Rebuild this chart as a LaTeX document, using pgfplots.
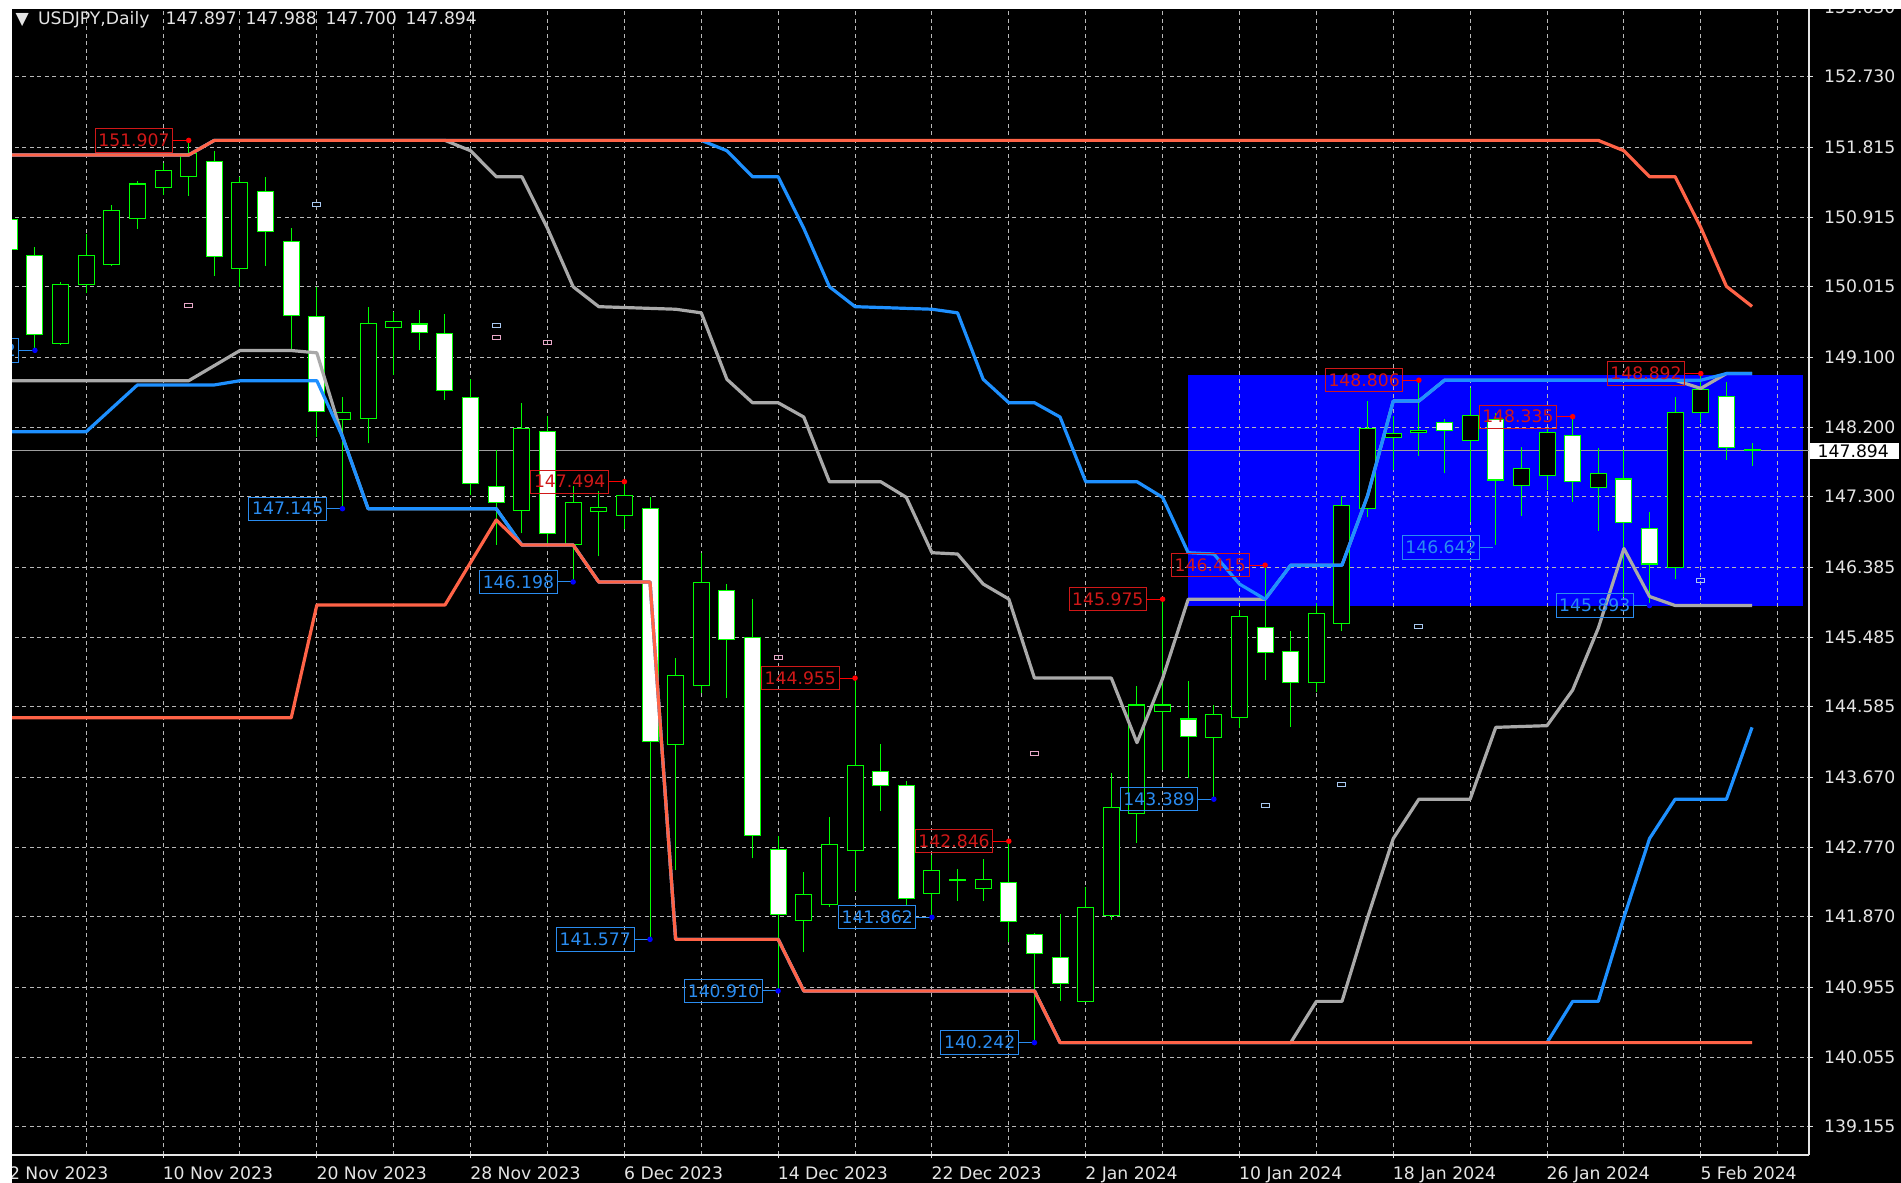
\documentclass[border=0pt]{standalone}
\usepackage{pgfplots}
\pgfplotsset{compat=1.18}
\usepackage{pgfplotstable}
\usepackage{fontspec}
\setmainfont{DejaVu Sans}

\definecolor{mtgreen}{HTML}{00FF00}
\definecolor{mtred}{HTML}{FF6347}
\definecolor{mtgray}{HTML}{A9A9A9}
\definecolor{mtblue}{HTML}{1E90FF}
\definecolor{rectblue}{HTML}{0000FF}
\definecolor{lblred}{HTML}{D01818}
\definecolor{lblblue}{HTML}{2A8CF0}
\definecolor{gridc}{HTML}{B8B8B8}
\definecolor{txt}{HTML}{E4E4E4}
\definecolor{mkpink}{HTML}{E8A8C8}
\definecolor{mkblue}{HTML}{A8C8F0}
\newcommand\chartfont{\fontsize{4.9pt}{5.9pt}\selectfont}

% daily bars, i = 0 is 2 Nov 2023
\pgfplotstableread{
i O H L C
0 150.886 150.930 150.450 150.499
1 150.416 150.524 149.197 149.403
2 149.283 150.080 149.261 150.050
3 150.046 150.696 149.930 150.416
4 150.296 151.071 150.283 150.994
5 150.899 151.386 150.761 151.343
6 151.300 151.610 151.201 151.515
7 151.446 151.907 151.188 151.740
8 151.640 151.773 150.153 150.403
9 150.253 151.437 150.015 151.365
10 151.252 151.437 150.283 150.735
11 150.597 150.770 149.197 149.640
12 149.627 150.015 148.076 148.408
13 148.292 148.593 147.145 148.386
14 148.314 149.757 147.990 149.533
15 149.490 149.692 148.874 149.563
16 149.533 149.714 149.197 149.420
17 149.413 149.661 148.550 148.671
18 148.585 148.818 147.322 147.473
19 147.438 147.904 146.676 147.228
20 147.128 148.515 146.827 148.184
21 148.140 148.347 146.698 146.827
22 146.676 147.438 146.198 147.224
23 147.106 147.378 146.528 147.163
24 147.051 147.494 146.878 147.322
25 147.150 147.292 141.577 144.133
26 144.090 145.212 142.468 144.982
27 144.853 146.576 144.758 146.188
28 146.085 146.171 144.702 145.460
29 145.477 145.977 142.625 142.926
30 142.745 142.913 140.910 141.901
31 141.819 142.452 141.410 142.151
32 142.022 143.155 142.000 142.797
33 142.723 144.955 142.207 143.831
34 143.745 144.099 143.237 143.560
35 143.560 143.620 142.020 142.099
36 142.173 142.668 141.862 142.465
37 142.340 142.487 142.073 142.350
38 142.229 142.617 142.073 142.354
39 142.315 142.846 141.539 141.806
40 141.634 141.655 140.242 141.397
41 141.340 141.901 140.778 141.009
42 140.780 142.251 140.770 141.992
43 141.890 143.732 141.828 143.285
44 143.206 144.853 142.827 144.607
45 144.523 145.975 143.763 144.607
46 144.426 144.916 143.659 144.202
47 144.186 144.607 143.389 144.483
48 144.448 145.833 144.315 145.753
49 145.605 146.415 144.929 145.285
50 145.294 145.565 144.328 144.898
51 144.893 145.931 144.773 145.784
52 145.663 147.313 145.568 147.184
53 147.150 148.537 147.034 148.184
54 148.068 148.343 147.645 148.120
55 148.135 148.806 147.826 148.150
56 148.257 148.300 147.602 148.150
57 148.033 148.702 146.977 148.356
58 148.300 148.380 146.642 147.516
59 147.442 147.947 147.051 147.667
60 147.568 148.172 147.387 148.128
61 148.085 148.335 147.236 147.494
62 147.422 147.926 146.860 147.603
63 147.529 147.904 146.000 146.964
64 146.883 147.106 145.893 146.430
65 146.387 148.593 146.232 148.386
66 148.386 148.892 148.249 148.680
67 148.602 148.787 147.775 147.939
68 147.897 147.988 147.700 147.894
}\candles

% swing high / swing low labels
\pgfplotstableread{
i p
7 151.907
24 147.494
33 144.955
39 142.846
45 145.975
49 146.415
55 148.806
61 148.335
66 148.892
}\highs

\pgfplotstableread{
i p
1 149.192
13 147.145
22 146.198
25 141.577
30 140.910
36 141.862
40 140.242
47 143.389
58 146.642
64 145.893
}\lows

\begin{document}
\begin{tikzpicture}
\useasboundingbox (0,0) rectangle (190.1mm,118.3mm);
\fill[black] (0,0) rectangle (190.1mm,118.3mm);

\pgfplotsset{mtframe/.style={
  at={(0mm,2.8mm)}, anchor=south west, scale only axis,
  width=180.9mm, height=115.5mm,
  xmin=-0.363, xmax=70.222, ymin=138.789, ymax=153.722},
  candle/.style={draw=none, mark=none, error bars/y dir=plus, error bars/y explicit, error bars/error mark=none}}

% range box behind the grid
\begin{axis}[mtframe, hide axis]
\addplot[fill=rectblue, draw=none] coordinates {(46,145.893) (70,145.893) (70,148.874) (46,148.874)};
\end{axis}

\begin{axis}[mtframe,
  axis x line*=bottom, axis y line*=right,
  axis line style={-, txt, line width=0.12mm},
  xtick={0,6,...,66},
  xticklabels={2 Nov 2023, 10 Nov 2023, 20 Nov 2023, 28 Nov 2023, 6 Dec 2023, 14 Dec 2023, 22 Dec 2023, 2 Jan 2024, 10 Jan 2024, 18 Jan 2024, 26 Jan 2024, 5 Feb 2024},
  minor xtick={3,9,...,69},
  ytick={153.630,152.730,151.815,150.915,150.015,149.100,148.200,147.300,146.385,145.485,144.585,143.670,142.770,141.870,140.955,140.055,139.155},
  yticklabels={153.630,152.730,151.815,150.915,150.015,149.100,148.200,147.300,146.385,145.485,144.585,143.670,142.770,141.870,140.955,140.055,139.155},
  grid=both,
  major grid style={gridc, dash pattern=on 0.4mm off 0.35mm, line width=0.1mm},
  minor grid style={gridc, dash pattern=on 0.4mm off 0.35mm, line width=0.1mm},
  tick align=outside, major tick length=0.35mm, minor tick length=0pt,
  tick style={txt, line width=0.1mm},
  xticklabel style={anchor=north west, inner sep=0pt, xshift=-0.1mm, yshift=-0.75mm, text=txt, font=\chartfont},
  yticklabel style={anchor=west, inner sep=0pt, xshift=1.1mm, text=txt, font=\chartfont},
  clip mode=individual,
]
% current price line
\addplot[white!62!black, line width=0.1mm] coordinates {(-0.363,147.894) (70.222,147.894)};

% candles: wicks, outlines, bodies
\addplot[candle, error bars/error bar style={draw=mtgreen, line width=0.1mm}]
  table[x=i, y=L, y error plus expr=\thisrow{H}-\thisrow{L}] {\candles};
\addplot[candle, error bars/error bar style={draw=mtgreen, line width=1.7mm}]
  table[x=i, y expr={min(\thisrow{O},\thisrow{C})-0.0065}, y error plus expr={max(abs(\thisrow{C}-\thisrow{O})+0.013,0.024)}] {\candles};
\addplot[restrict expr to domain={\thisrow{O}-\thisrow{C}}{0.015:100}, candle, error bars/error bar style={draw=white, line width=1.5mm}]
  table[x=i, y expr={\thisrow{C}+0.0065}, y error plus expr={\thisrow{O}-\thisrow{C}-0.013}] {\candles};
\addplot[restrict expr to domain={\thisrow{C}-\thisrow{O}}{0.015:100}, candle, error bars/error bar style={draw=black, line width=1.5mm}]
  table[x=i, y expr={\thisrow{O}+0.0065}, y error plus expr={\thisrow{C}-\thisrow{O}-0.013}] {\candles};

% channel lines: gray, blue, red
\addplot[mtgray, line width=0.32mm, line join=round] coordinates {(0,151.718) (7,151.718) (8,151.907) (17,151.907) (18,151.773) (19,151.437) (20,151.437) (21,150.770) (22,150.015) (23,149.757) (26,149.724) (27,149.677) (28,148.818) (29,148.515) (30,148.515) (31,148.330) (32,147.494) (34,147.494) (35,147.292) (36,146.576) (37,146.559) (38,146.171) (39,145.977) (40,144.955) (43,144.955) (44,144.120) (45,144.950) (46,145.975) (49,145.975) (50,146.415) (52,146.415) (53,147.313) (54,148.537) (55,148.537) (56,148.806) (65,148.806) (66,148.700) (67,148.892) (68,148.892)};
\addplot[mtgray, line width=0.32mm, line join=round] coordinates {(0,148.800) (7,148.800) (9,149.190) (11,149.190) (12,149.160) (13,148.076) (14,147.145) (19,147.145) (20,146.676) (22,146.676) (23,146.198) (25,146.198) (26,141.577) (30,141.577) (31,140.910) (40,140.910) (41,140.242) (50,140.242) (51,140.775) (52,140.775) (53,141.860) (54,142.880) (55,143.389) (57,143.389) (58,144.318) (60,144.340) (61,144.800) (62,145.600) (63,146.630) (64,146.010) (65,145.893) (68,145.893)};
\addplot[mtblue, line width=0.32mm, line join=round] coordinates {(0,151.718) (7,151.718) (8,151.907) (27,151.907) (28,151.773) (29,151.437) (30,151.437) (31,150.770) (32,150.015) (33,149.757) (36,149.724) (37,149.677) (38,148.818) (39,148.515) (40,148.515) (41,148.330) (42,147.494) (44,147.494) (45,147.292) (46,146.576) (47,146.559) (48,146.171) (49,145.975) (50,146.415) (52,146.415) (53,147.313) (54,148.537) (55,148.537) (56,148.806) (66,148.806) (67,148.892) (68,148.892)};
\addplot[mtblue, line width=0.32mm, line join=round] coordinates {(0,148.140) (3,148.140) (5,148.745) (8,148.745) (9,148.800) (12,148.800) (13,148.076) (14,147.145) (19,147.145) (20,146.676) (22,146.676) (23,146.198) (25,146.198) (26,141.577) (30,141.577) (31,140.910) (40,140.910) (41,140.242) (60,140.242) (61,140.775) (62,140.775) (63,141.860) (64,142.880) (65,143.389) (67,143.389) (68,144.318)};
\addplot[mtred, line width=0.32mm, line join=round] coordinates {(0,151.718) (7,151.718) (8,151.907) (62,151.907) (63,151.773) (64,151.437) (65,151.437) (66,150.780) (67,150.020) (68,149.760)};
\addplot[mtred, line width=0.32mm, line join=round] coordinates {(0,144.442) (11,144.442) (12,145.900) (17,145.900) (19,147.000) (20,146.676) (22,146.676) (23,146.198) (25,146.198) (26,141.577) (30,141.577) (31,140.910) (40,140.910) (41,140.242) (68,140.242)};

% small markers
\addplot[mkblue, only marks, mark=square, mark size=0.25mm, mark options={xscale=1.6, yscale=0.8, line width=0.1mm}]
  coordinates {(12,151.084) (19,149.511) (49,143.304) (52,143.579) (55,145.619) (66,146.223)};
\addplot[mkpink, only marks, mark=square, mark size=0.25mm, mark options={xscale=1.6, yscale=0.8, line width=0.1mm}]
  coordinates {(7,149.769) (19,149.361) (21,149.291) (30,145.224) (40,143.983)};

% high and low labels
\addplot[red, only marks, mark=*, mark size=0.2mm, point meta=explicit symbolic, nodes near coords,
  every node near coord/.append style={anchor=east, xshift=-1.55mm, draw=lblred, text=lblred, line width=0.1mm,
    inner xsep=0.3mm, inner ysep=0pt, minimum height=2.33mm, minimum width=7.75mm, font=\chartfont},
  error bars/.cd, x dir=minus, x fixed=0.605, error mark=none, error bar style={red, line width=0.1mm}]
  table[x=i, y=p, meta=p] {\highs};
\addplot[blue, only marks, mark=*, mark size=0.2mm, point meta=explicit symbolic, nodes near coords,
  every node near coord/.append style={anchor=east, xshift=-1.55mm, draw=lblblue, text=lblblue, line width=0.1mm,
    inner xsep=0.3mm, inner ysep=0pt, minimum height=2.33mm, minimum width=7.75mm, font=\chartfont},
  error bars/.cd, x dir=minus, x fixed=0.605, error mark=none, error bar style={lblblue, line width=0.1mm}]
  table[x=i, y=p, meta=p] {\lows};

\node[fill=white, text=black, anchor=west, inner xsep=0.8mm, inner ysep=0pt, minimum height=1.6mm,
  text width=7.3mm, align=left, font=\chartfont] at (axis cs:70.222,147.894) {147.894};
\end{axis}

% screenshot border and header
\fill[white] (0,117.4mm) rectangle (190.1mm,118.3mm);
\fill[white] (0,0) rectangle (1.2mm,118.3mm);
\begin{scope}[every node/.style={inner sep=0pt, anchor=base west, text=txt, font=\chartfont}]
\node at (1.5mm,115.8mm) {▼};
\node at (3.73mm,115.8mm) {USDJPY,Daily};
\node at (16.5mm,115.8mm) {147.897};
\node at (24.5mm,115.8mm) {147.988};
\node at (32.5mm,115.8mm) {147.700};
\node at (40.5mm,115.8mm) {147.894};
\end{scope}
\end{tikzpicture}
\end{document}
